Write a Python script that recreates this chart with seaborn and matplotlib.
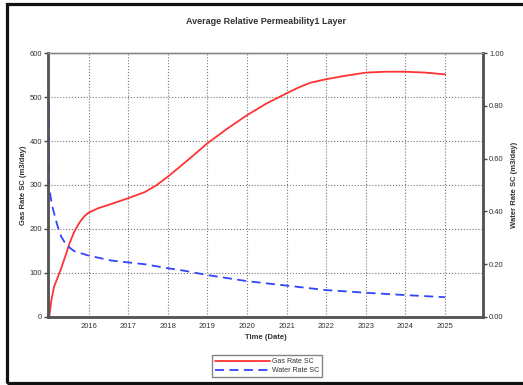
import pandas as pd
import matplotlib
matplotlib.use('Agg')
import matplotlib.pyplot as plt
import matplotlib.dates as mdates
from matplotlib.patches import Rectangle
import seaborn as sns

# dados
gas_datas = ['2015-01-03', '2015-01-23', '2015-02-16', '2015-03-18', '2015-04-23',
             '2015-05-30', '2015-07-09', '2015-08-26', '2015-10-13', '2015-11-24',
             '2016-01-01', '2016-03-28', '2016-07-31', '2017-01-01', '2017-06-03',
             '2017-09-15', '2018-01-01', '2018-07-01', '2019-01-01', '2019-07-01',
             '2020-01-01', '2020-07-01', '2021-01-01', '2021-04-20', '2021-08-08',
             '2022-01-01', '2022-07-01', '2023-01-01', '2023-07-01', '2024-01-01',
             '2024-07-01', '2025-01-01']
gas_taxa = [0, 38, 68, 87, 110, 137, 167, 196, 216, 229,
            237, 247, 257, 270, 284, 299, 319, 356, 395, 428,
            459, 486, 509, 522, 533, 541, 549, 556, 558, 558,
            556, 552]

agua_datas = ['2015-01-01', '2015-01-02', '2015-01-30', '2015-03-18', '2015-04-23',
              '2015-06-10', '2015-08-20', '2016-01-01', '2016-07-31', '2017-01-01',
              '2017-06-03', '2018-01-01', '2018-05-26', '2019-01-01', '2020-01-01',
              '2021-01-01', '2022-01-01', '2023-01-01', '2024-01-01', '2025-01-01']
agua_taxa = [0.80, 0.49, 0.42, 0.348, 0.304, 0.272, 0.249, 0.232, 0.213, 0.206,
             0.199, 0.184, 0.175, 0.158, 0.135, 0.118, 0.101, 0.091, 0.082, 0.074]

gas_df = pd.DataFrame({'data': pd.to_datetime(gas_datas), 'taxa': gas_taxa})
agua_df = pd.DataFrame({'data': pd.to_datetime(agua_datas), 'taxa': agua_taxa})

sns.set_style('white')
plt.rcParams['font.family'] = ['Liberation Sans', 'DejaVu Sans']

fig = plt.figure(figsize=(5.23, 3.85), dpi=100)
ax = fig.add_axes([0.0923, 0.1774, 0.8307, 0.6842])
ax2 = ax.twinx()

sns.lineplot(data=gas_df, x='data', y='taxa', ax=ax, color='#ff3333',
             linewidth=1.3, estimator=None, label='Gas Rate SC', legend=False)
sns.lineplot(data=agua_df, x='data', y='taxa', ax=ax2, color='#3344ff',
             linewidth=1.3, estimator=None, label='Water Rate SC', legend=False)
ax2.lines[0].set_dashes((5, 3))

ax.set_xlim(pd.Timestamp('2014-12-25'), pd.Timestamp('2025-12-14'))
ax.set_ylim(0, 600)
ax2.set_ylim(0, 1)
ax.set_yticks(range(0, 601, 100))
ax2.set_yticks([0, 0.2, 0.4, 0.6, 0.8, 1.0])
ax2.set_yticklabels(['%.2f' % v for v in [0, 0.2, 0.4, 0.6, 0.8, 1.0]])
ax.set_xticks(pd.to_datetime(['%d-01-01' % a for a in range(2016, 2026)]))
ax.xaxis.set_major_formatter(mdates.DateFormatter('%Y'))

ax.grid(True, linestyle=':', color='#777777', linewidth=0.8)
ax.set_axisbelow(True)

for a in (ax, ax2):
    a.tick_params(axis='both', labelsize=5.5, colors='#444444', length=3,
                  width=1, direction='out', pad=1.5)
    for lado in ('left', 'right', 'bottom'):
        a.spines[lado].set_linewidth(1.8)
        a.spines[lado].set_color('#555555')
    a.spines['top'].set_linewidth(1.0)
    a.spines['top'].set_color('#888888')
for r in ax.get_yticklabels() + ax.get_xticklabels() + ax2.get_yticklabels():
    r.set_color('#333333')

ax.set_xlabel('Time (Date)', fontsize=5.5, fontweight='bold', color='#333333', labelpad=3)
ax.set_ylabel('Gas Rate SC (m3/day)', fontsize=5.5, fontweight='bold', color='#333333', labelpad=2)
ax2.set_ylabel('Water Rate SC (m3/day)', fontsize=5.5, fontweight='bold', color='#333333', labelpad=5)
ax.set_title('Average Relative Permeability1 Layer', fontsize=6.5, fontweight='bold',
             color='#333333', pad=21)

handles = ax.get_lines()[:1] + ax2.get_lines()[:1]
leg = fig.legend(handles, ['Gas Rate SC', 'Water Rate SC'], loc='upper center',
                 bbox_to_anchor=(267 / 523, 1 - 352 / 385), fontsize=5,
                 handlelength=8, frameon=True, fancybox=False, borderpad=0.4,
                 labelspacing=0.3, handletextpad=0.3)
leg.get_frame().set_edgecolor('#666666')
leg.get_frame().set_linewidth(1.0)
for t in leg.get_texts():
    t.set_color('#333333')

# moldura da figura
fig.add_artist(Rectangle((6.5 / 523, 2.5 / 385), 1.2, 379 / 385, transform=fig.transFigure,
                         fill=False, edgecolor='#111111', linewidth=2.3, clip_on=False))

fig.savefig('out.png', dpi=100)
